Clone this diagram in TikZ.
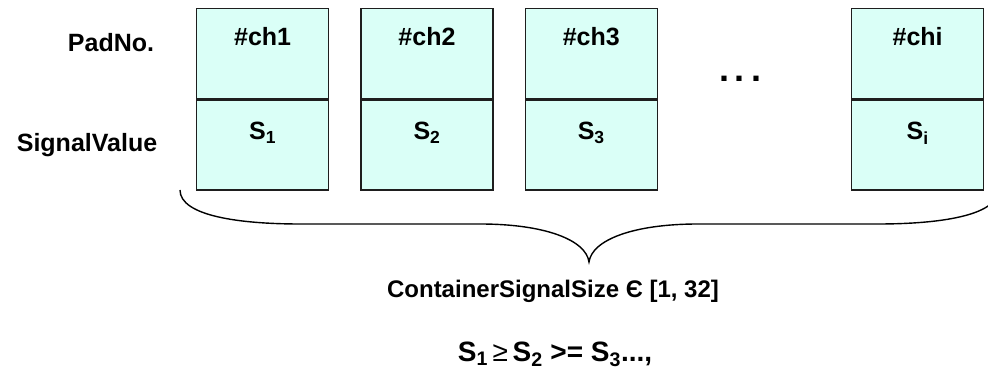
\documentclass[tikz,border=0pt]{standalone}
\usepackage{fontspec}
\setmainfont{Liberation Sans}
\usepackage{tikz}
\usetikzlibrary{positioning}
\definecolor{cellfill}{RGB}{218,255,247}
\definecolor{celldraw}{RGB}{30,30,30}
\tikzset{
  cell/.style={draw=celldraw, fill=cellfill, line width=1.3pt, inner sep=0pt,
               minimum width=132pt, font=\fontsize{25}{30}\selectfont\bfseries},
  padcell/.style={cell, text height=37pt, text depth=53pt},
  sigcell/.style={cell, text height=40pt, text depth=50pt},
  rowlbl/.style={anchor=base, font=\fontsize{25}{30}\selectfont\bfseries},
  note/.style={anchor=base, font=\fontsize{24}{30}\selectfont\bfseries},
  brace/.style={line width=1.4pt, black}
}
\begin{document}
\begin{tikzpicture}[x=1pt, y=-1pt]
\clip (0,0) rectangle (988,374);
% row labels
\node[rowlbl] (pad) at (111,52) {PadNo.};
\node[rowlbl] (sig) at (87,152) {SignalValue};
% channel columns
\node[padcell, anchor=north west] (ch1) at (196,8) {\#ch1};
\node[sigcell, below=0pt of ch1] (s1) {S\textsubscript{1}};
\node[padcell, right=31pt of ch1] (ch2) {\#ch2};
\node[sigcell, below=0pt of ch2] (s2) {S\textsubscript{2}};
\node[padcell, right=31pt of ch2] (ch3) {\#ch3};
\node[sigcell, below=0pt of ch3] (s3) {S\textsubscript{3}};
\node[padcell, anchor=north west] (chi) at (851,8) {\#chi};
\node[sigcell, below=0pt of chi] (si) {S\textsubscript{i}};
\node[anchor=base, font=\fontsize{36}{40}\selectfont\bfseries] (dots) at (740,82) {.\kern6pt.\kern6pt.};
% brace under the columns
\draw[brace] (180,190) .. controls (180,216) and (240,224) .. (300,224)
  -- (480,224) .. controls (545,224) and (586,240) .. (589,262)
  .. controls (592,240) and (633,224) .. (698,224)
  -- (878,224) .. controls (938,224) and (998,216) .. (998,190);
\node[note] (size) at (553,298) {ContainerSignalSize Є [1, 32]};
\node[note, font=\fontsize{28}{34}\selectfont\bfseries] (order) at (555,361)
  {S\textsubscript{1}{\mdseries\,≥\,}S\textsubscript{2} >= S\textsubscript{3}...,};
\end{tikzpicture}
\end{document}
